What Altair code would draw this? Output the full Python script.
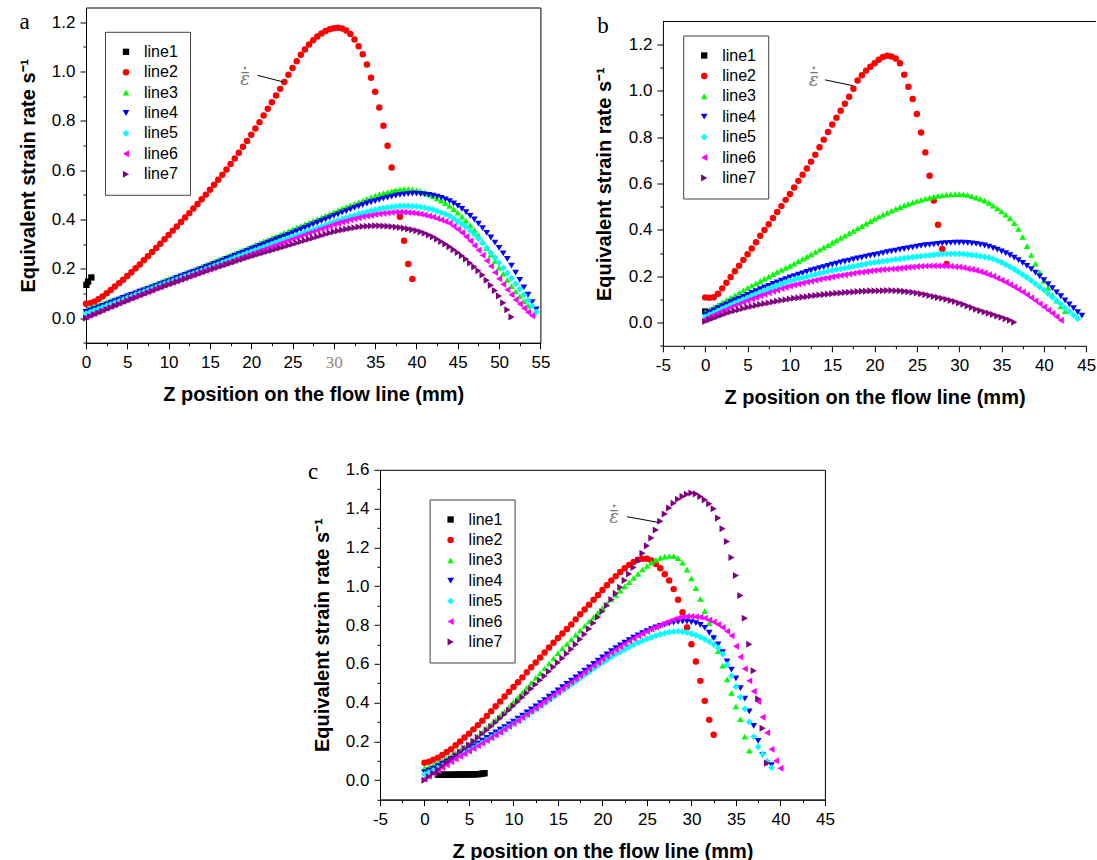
import altair as alt
import pandas as pd

FONT = "Liberation Sans"
SERIES = ["line1", "line2", "line3", "line4", "line5", "line6", "line7"]
COLORS = ["#000000", "#ff0000", "#00ff00", "#0000ff", "#00ffff", "#ff00ff", "#800080"]
SHAPES = ["square", "circle", "triangle-up", "triangle-down", "diamond", "triangle-left", "triangle-right"]
SIZES = [40, 50, 64, 64, 55, 64, 64]

X_TITLE = "Z position on the flow line (mm)"
Y_TITLE = "Equivalent strain rate s\u207b\u00b9"
ANNOT_PARTS = ["\u03b5", "\u2013", "\u00b7"]   # epsilon, bar, dot
ANNOT_DY = [0, -7.5, -11.5]
PANEL_LETTERS = ["a", "b", "c"]

# Z positions along the flow line (mm) shared by the curves of every panel
Z_GRID = [0, 0.5, 1, 1.5, 2, 2.5, 3, 3.5, 4, 4.5, 5, 5.5, 6, 6.5, 7, 7.5, 8, 8.5, 9, 9.5,
          10, 10.5, 11, 11.5, 12, 12.5, 13, 13.5, 14, 14.5, 15, 15.5, 16, 16.5, 17, 17.5, 18, 18.5, 19, 19.5,
          20, 20.5, 21, 21.5, 22, 22.5, 23, 23.5, 24, 24.5, 25, 25.5, 26, 26.5, 27, 27.5, 28, 28.5, 29, 29.5,
          30, 30.5, 31, 31.5, 32, 32.5, 33, 33.5, 34, 34.5, 35, 35.5, 36, 36.5, 37, 37.5, 38, 38.5, 39, 39.5,
          40, 40.5, 41, 41.5, 42, 42.5, 43, 43.5, 44, 44.5, 45, 45.5, 46, 46.5, 47, 47.5, 48, 48.5, 49, 49.5,
          50, 50.5, 51, 51.5, 52, 52.5, 53, 53.5, 54, 54.5, 55]

# ---------------- panel a (strain rate in 1/1000 s^-1) ----------------
A_LINE1_Z = [0.05, 0.25, 0.65]
A_LINE1_V = [135, 148, 165]
A_LINE2 = [58, 61, 67, 77, 88, 101, 114, 128, 142, 156,
           171, 186, 202, 218, 235, 251, 268, 285, 302, 320,
           337, 355, 372, 390, 408, 426, 445, 463, 482, 501,
           521, 541, 561, 582, 603, 625, 648, 671, 695, 719,
           744, 769, 795, 822, 849, 876, 903, 930, 958, 987,
           1015, 1042, 1068, 1090, 1110, 1127, 1142, 1155, 1165, 1172,
           1176, 1178, 1175, 1167, 1153, 1130, 1103, 1070, 1029, 975,
           918, 854, 780, 699, 611, 510, 411, 314, 220, 159]
A_LINE3 = [35, 41, 47, 53, 59, 65, 71, 77, 83, 89,
           95, 101, 107, 114, 120, 126, 133, 139, 145, 152,
           158, 164, 171, 177, 184, 190, 196, 203, 209, 216,
           222, 229, 235, 242, 249, 256, 262, 269, 276, 283,
           290, 297, 304, 311, 318, 325, 332, 339, 346, 353,
           360, 367, 374, 381, 388, 395, 402, 409, 416, 423,
           430, 437, 444, 451, 457, 464, 470, 477, 484, 491,
           497, 502, 507, 511, 515, 519, 522, 523, 523, 521,
           518, 514, 509, 502, 495, 486, 477, 466, 455, 442,
           428, 412, 395, 376, 357, 336, 310, 284, 258, 232,
           205, 180, 155, 130, 108, 88, 68, 50]
A_LINE4 = [25, 31, 37, 44, 50, 56, 63, 69, 75, 82,
           88, 94, 100, 107, 113, 119, 125, 131, 138, 144,
           150, 156, 163, 169, 175, 181, 188, 194, 200, 207,
           213, 220, 226, 233, 240, 246, 253, 260, 266, 273,
           280, 286, 293, 299, 306, 312, 319, 325, 332, 338,
           345, 352, 359, 366, 373, 380, 387, 394, 401, 408,
           415, 421, 428, 434, 441, 447, 453, 459, 465, 470,
           475, 480, 485, 489, 493, 497, 500, 502, 504, 505,
           505, 504, 502, 500, 497, 493, 488, 482, 475, 465,
           455, 443, 430, 415, 400, 383, 365, 346, 327, 306,
           285, 263, 240, 213, 185, 155, 125, 95, 65, 35]
A_LINE5 = [18, 24, 31, 37, 44, 50, 56, 63, 69, 76,
           82, 88, 95, 101, 107, 113, 120, 126, 132, 139,
           145, 151, 157, 163, 169, 175, 181, 187, 193, 199,
           205, 212, 218, 225, 231, 238, 244, 251, 257, 264,
           270, 276, 282, 288, 294, 300, 306, 312, 318, 324,
           330, 336, 342, 348, 354, 360, 366, 372, 378, 384,
           390, 396, 401, 407, 412, 417, 422, 427, 431, 436,
           440, 443, 446, 449, 451, 453, 455, 455, 455, 454,
           453, 451, 448, 444, 440, 434, 428, 422, 415, 404,
           393, 382, 370, 355, 340, 323, 305, 285, 265, 245,
           225, 204, 183, 162, 140, 118, 95, 72, 50, 25]
A_LINE6 = [5, 12, 19, 26, 33, 40, 47, 54, 61, 68,
           75, 82, 88, 95, 101, 108, 114, 121, 127, 134,
           140, 146, 152, 158, 164, 170, 176, 182, 188, 194,
           200, 206, 212, 218, 224, 230, 236, 242, 248, 254,
           260, 266, 272, 278, 284, 290, 296, 302, 308, 314,
           320, 326, 332, 338, 344, 350, 356, 362, 368, 374,
           380, 385, 390, 394, 399, 403, 407, 411, 414, 417,
           420, 423, 425, 427, 429, 430, 430, 430, 428, 427,
           425, 422, 418, 414, 410, 404, 398, 392, 385, 373,
           360, 346, 330, 313, 295, 275, 255, 233, 210, 185,
           160, 137, 115, 95, 75, 57, 40, 24, 10]
A_LINE7 = [0, 7, 14, 21, 28, 35, 42, 49, 56, 63,
           70, 77, 83, 90, 96, 103, 109, 116, 122, 129,
           135, 141, 147, 153, 159, 165, 171, 177, 183, 189,
           195, 201, 206, 212, 217, 223, 228, 234, 239, 245,
           250, 255, 260, 265, 270, 275, 280, 285, 290, 295,
           300, 305, 310, 315, 320, 325, 330, 335, 340, 345,
           350, 354, 358, 361, 364, 367, 370, 372, 373, 374,
           375, 375, 374, 373, 372, 370, 368, 365, 362, 359,
           355, 350, 344, 337, 330, 321, 311, 301, 290, 278,
           266, 253, 240, 224, 208, 192, 175, 154, 133, 112,
           90, 62, 34, 5]

# ---------------- panel b ----------------
B_LINE1_Z = [0.0, 0.3]
B_LINE1_V = [48, 40]
B_LINE2 = [109, 107, 110, 125, 148, 172, 197, 222, 246, 270,
           295, 320, 347, 375, 400, 425, 452, 478, 503, 530,
           555, 583, 612, 638, 665, 695, 725, 757, 790, 823,
           855, 885, 915, 945, 975, 1010, 1045, 1068, 1088, 1105,
           1120, 1135, 1147, 1152, 1149, 1140, 1120, 1070, 1018, 965,
           901, 821, 735, 634, 527, 423, 318, 253]
B_LINE3 = [45, 55, 66, 76, 87, 97, 108, 118, 129, 140,
           150, 160, 170, 180, 190, 199, 209, 219, 228, 236,
           245, 255, 265, 275, 285, 295, 305, 315, 325, 335,
           345, 355, 366, 376, 386, 396, 407, 417, 427, 438,
           448, 457, 466, 475, 483, 491, 499, 506, 513, 519,
           525, 530, 535, 540, 544, 547, 550, 552, 554, 555,
           555, 554, 551, 546, 540, 534, 527, 517, 505, 493,
           480, 466, 450, 430, 405, 370, 330, 292, 255, 218,
           180, 150, 120, 95, 70, 50]
B_LINE4 = [35, 44, 53, 62, 71, 79, 88, 96, 104, 112,
           120, 128, 136, 144, 152, 159, 167, 174, 181, 188,
           195, 201, 207, 213, 219, 225, 230, 235, 240, 245,
           250, 255, 260, 264, 268, 273, 277, 281, 285, 289,
           292, 296, 300, 304, 308, 311, 315, 318, 322, 325,
           328, 331, 334, 336, 338, 340, 342, 343, 344, 345,
           345, 345, 344, 342, 340, 337, 333, 328, 322, 315,
           308, 300, 291, 281, 270, 258, 245, 231, 216, 200,
           183, 166, 149, 131, 114, 96, 79, 62, 45, 30]
B_LINE5 = [25, 34, 42, 51, 59, 67, 76, 84, 92, 100,
           108, 116, 123, 131, 138, 146, 153, 160, 167, 174,
           180, 185, 190, 194, 199, 203, 208, 212, 217, 221,
           225, 229, 232, 236, 239, 243, 246, 250, 253, 257,
           260, 263, 265, 268, 270, 273, 275, 278, 280, 283,
           285, 287, 289, 291, 293, 295, 296, 297, 297, 297,
           297, 296, 294, 292, 290, 287, 284, 280, 275, 268,
           260, 251, 241, 230, 219, 207, 195, 182, 168, 154,
           140, 125, 110, 95, 80, 64, 48, 33, 18]
B_LINE6 = [15, 24, 32, 41, 49, 57, 65, 73, 80, 88,
           95, 102, 109, 116, 122, 129, 135, 141, 147, 153,
           158, 163, 167, 171, 175, 179, 183, 187, 191, 194,
           198, 201, 204, 207, 210, 213, 216, 218, 221, 223,
           225, 227, 229, 230, 232, 233, 235, 237, 239, 240,
           242, 243, 244, 245, 245, 245, 245, 244, 243, 241,
           240, 237, 233, 229, 225, 220, 214, 207, 200, 192,
           183, 174, 164, 154, 143, 132, 120, 107, 94, 81,
           68, 54, 40, 25, 10]
B_LINE7 = [5, 12, 19, 26, 33, 40, 46, 51, 56, 61,
           66, 70, 74, 78, 82, 85, 89, 92, 96, 99,
           102, 105, 107, 110, 112, 115, 117, 119, 121, 123,
           125, 127, 128, 130, 131, 132, 134, 135, 136, 137,
           137, 138, 138, 139, 139, 138, 137, 135, 133, 131,
           128, 125, 121, 117, 113, 109, 105, 101, 96, 91,
           85, 79, 72, 65, 58, 52, 46, 41, 35, 29,
           23, 17, 10, 2]

# ---------------- panel c ----------------
C_LINE1_Z = [1.5, 1.75, 2, 2.25, 2.5, 2.75, 3, 3.25, 3.5, 3.75, 4,
             4.25, 4.5, 4.75, 5, 5.25, 5.5, 5.75, 6, 6.25, 6.5, 6.75]
C_LINE1_V = [28, 28, 28, 28, 28, 28, 28, 28, 29, 29, 29,
             29, 29, 29, 30, 30, 30, 31, 31, 32, 34, 36]
C_LINE2 = [90, 95, 105, 116, 130, 145, 160, 180, 200, 220,
           240, 262, 284, 307, 331, 356, 381, 406, 431, 456,
           480, 505, 530, 556, 582, 607, 632, 658, 684, 709,
           733, 756, 779, 803, 829, 855, 880, 905, 930, 955,
           980, 1005, 1029, 1052, 1073, 1093, 1110, 1125, 1136, 1142,
           1142, 1133, 1115, 1092, 1062, 1030, 985, 930, 866, 787,
           701, 612, 512, 409, 311, 234]
C_LINE3 = [62, 70, 79, 89, 100, 112, 125, 140, 155, 170,
           186, 206, 226, 247, 268, 289, 310, 332, 354, 378,
           402, 427, 452, 477, 502, 527, 552, 577, 602, 628,
           655, 679, 703, 726, 749, 772, 795, 818, 841, 864,
           887, 910, 932, 955, 977, 999, 1021, 1043, 1064, 1086,
           1105, 1122, 1136, 1146, 1152, 1155, 1155, 1145, 1122, 1085,
           1040, 990, 935, 872, 810, 740, 665, 590, 520, 450,
           380, 315, 225, 152]
C_LINE4 = [40, 50, 60, 72, 85, 97, 110, 123, 136, 149,
           162, 176, 190, 204, 218, 232, 246, 260, 274, 288,
           302, 317, 333, 349, 365, 381, 397, 413, 430, 446,
           463, 480, 497, 513, 530, 547, 565, 582, 600, 616,
           633, 649, 665, 680, 695, 709, 722, 735, 747, 758,
           768, 778, 787, 795, 802, 808, 813, 816, 818, 818,
           815, 810, 800, 785, 760, 732, 700, 660, 612, 570,
           525, 475, 420, 355, 280, 203, 130, 88, 78]
C_LINE5 = [30, 40, 50, 62, 75, 87, 100, 113, 126, 139,
           152, 165, 179, 192, 206, 220, 234, 248, 262, 276,
           290, 305, 320, 335, 350, 366, 382, 398, 414, 430,
           446, 462, 478, 494, 510, 526, 543, 559, 575, 591,
           606, 621, 635, 649, 662, 675, 687, 698, 709, 719,
           728, 737, 745, 752, 758, 763, 766, 767, 765, 761,
           755, 747, 738, 727, 714, 699, 682, 650, 595, 538,
           482, 428, 368, 300, 225, 172, 135, 98, 65]
C_LINE6 = [5, 20, 35, 50, 65, 80, 95, 109, 123, 136,
           150, 163, 177, 191, 205, 219, 233, 247, 262, 277,
           292, 307, 323, 339, 355, 371, 388, 404, 421, 438,
           455, 471, 488, 505, 522, 539, 556, 573, 590, 607,
           624, 640, 657, 672, 688, 702, 717, 730, 744, 756,
           768, 779, 790, 800, 810, 819, 828, 836, 842, 844,
           844, 843, 840, 835, 826, 815, 802, 787, 768, 745,
           690, 635, 575, 512, 458, 406, 325, 245, 160, 100,
           62]
C_LINE7 = [0, 18, 36, 55, 74, 92, 110, 128, 146, 165,
           183, 201, 220, 239, 258, 277, 297, 318, 339, 361,
           383, 405, 427, 449, 471, 493, 515, 537, 560, 583,
           606, 629, 652, 675, 700, 726, 752, 780, 810, 840,
           870, 900, 931, 963, 995, 1030, 1063, 1097, 1132, 1170,
           1208, 1248, 1290, 1335, 1372, 1403, 1428, 1448, 1463, 1474,
           1480, 1476, 1462, 1445, 1425, 1399, 1351, 1296, 1230, 1148,
           1055, 952, 835, 701, 564, 420, 268, 88]

# axis tick positions (major + minor)
A_X_TICKS = [0, 2.5, 5, 7.5, 10, 12.5, 15, 17.5, 20, 22.5, 25, 27.5, 30, 32.5,
             35, 37.5, 40, 42.5, 45, 47.5, 50, 52.5, 55]
BC_X_TICKS = [-5, -2.5, 0, 2.5, 5, 7.5, 10, 12.5, 15, 17.5, 20, 22.5, 25, 27.5,
              30, 32.5, 35, 37.5, 40, 42.5, 45]
AB_Y_TICKS = [-0.1, 0.0, 0.1, 0.2, 0.3, 0.4, 0.5, 0.6, 0.7, 0.8, 0.9, 1.0, 1.1, 1.2]
C_Y_TICKS = [-0.1, 0.0, 0.1, 0.2, 0.3, 0.4, 0.5, 0.6, 0.7, 0.8, 0.9, 1.0, 1.1, 1.2,
             1.3, 1.4, 1.5, 1.6]

# annotation (strain-rate symbol with leader line), data coordinates
A_ANN_TEXT = [19.24, 0.964]
A_ANN_LINE_Z = [20.76, 23.88]
A_ANN_LINE_V = [0.985, 0.958]
B_ANN_TEXT = [12.84, 1.045]
B_ANN_LINE_Z = [14.16, 17.43]
B_ANN_LINE_V = [1.048, 1.023]
C_ANN_TEXT = [21.31, 1.351]
C_ANN_LINE_Z = [22.78, 26.27]
C_ANN_LINE_V = [1.358, 1.329]

X_LABEL_EXPR = "datum.value % 5 === 0 ? '' + datum.value : ''"
Y_LABEL_EXPR = "abs(datum.value * 5 - round(datum.value * 5)) < 0.01 ? format(datum.value, '.1f') : ''"
X_TICK_SIZE = {"condition": {"test": "datum.value % 5 !== 0", "value": 3}, "value": 6}
Y_TICK_SIZE = {"condition": {"test": "abs(datum.value * 5 - round(datum.value * 5)) > 0.01", "value": 3}, "value": 6}

INDEP = dict(color="independent", shape="independent", size="independent")


def make_df(l1z, l1v, curves):
    rows = []
    for z, v in zip(l1z, l1v):
        rows.append(("line1", z, v / 1000.0))
    for name, vals in zip(SERIES[1:], curves):
        for z, v in zip(Z_GRID, vals):
            rows.append((name, z, v / 1000.0))
    return pd.DataFrame(rows, columns=["series", "z", "v"])


def build_panel(df, xdom, ydom, w, h, xticks, yticks, legend_xy, ann_text, ann_lz, ann_lv,
                letter, letter_xy, framed, gray30=False, top_rule=False):
    xkw = dict(values=xticks, title=X_TITLE, labelExpr=X_LABEL_EXPR, tickSize=X_TICK_SIZE,
               labelFlush=False, labelOverlap=False, labelFontSize=17, labelPadding=14,
               labelBaseline="middle", titleFontSize=20, titleFontWeight="bold",
               titleX=w / 2, titleY=52, titleBaseline="middle", titleAlign="center", grid=False)
    if gray30:
        xkw["labelColor"] = {"condition": {"test": "datum.value === 30", "value": "#8a8a8a"}, "value": "black"}
        xkw["labelFont"] = {"condition": {"test": "datum.value === 30", "value": "Liberation Serif"}, "value": FONT}
    X = alt.X("z:Q", scale=alt.Scale(domain=xdom, nice=False, zero=False), axis=alt.Axis(**xkw))
    Y = alt.Y("v:Q", scale=alt.Scale(domain=ydom, nice=False, zero=False),
              axis=alt.Axis(values=yticks, title=Y_TITLE, labelExpr=Y_LABEL_EXPR, tickSize=Y_TICK_SIZE,
                            labelFlush=False, labelOverlap=False, labelFontSize=17, labelPadding=5,
                            titleFontSize=20, titleFontWeight="bold", titleX=-58, titleY=h / 2,
                            titleBaseline="middle", titleAlign="center", titleAngle=270, grid=False))
    legend = alt.Legend(title=None, orient="none", legendX=legend_xy[0], legendY=legend_xy[1],
                        strokeColor="#444444", fillColor="white", padding=12, labelFont=FONT,
                        labelFontSize=16, labelColor="black", labelOffset=10, symbolOffset=1,
                        rowPadding=4.4, symbolSize=36, symbolStrokeWidth=0, symbolOpacity=1)
    pts = alt.Chart(df).mark_point(filled=True, opacity=1, strokeWidth=0).encode(
        x=X, y=Y,
        color=alt.Color("series:N", scale=alt.Scale(domain=SERIES, range=COLORS), legend=legend),
        shape=alt.Shape("series:N", scale=alt.Scale(domain=SERIES, range=SHAPES), legend=legend),
        size=alt.Size("series:N", scale=alt.Scale(domain=SERIES, range=SIZES), legend=None),
    )
    line = alt.Chart(pd.DataFrame({"z": ann_lz, "v": ann_lv})).mark_line(
        color="black", strokeWidth=1).encode(x=X, y=Y)
    ann_df = pd.DataFrame({"z": [ann_text[0]], "v": [ann_text[1]]})
    layers = [pts, line]
    for part, dy in zip(ANNOT_PARTS, ANNOT_DY):
        layers.append(alt.Chart(ann_df).mark_text(
            text=part, dy=dy, font="DejaVu Serif", fontStyle="italic", fontSize=18, color="#777777",
            baseline="middle", align="center").encode(x=X, y=Y))
    layers.append(alt.Chart(pd.DataFrame({"t": [letter]})).mark_text(
        font="Liberation Serif", fontSize=23, baseline="middle", align="center", color="black").encode(
        x=alt.value(letter_xy[0]), y=alt.value(letter_xy[1]), text="t:N"))
    if top_rule:
        layers.append(alt.Chart(pd.DataFrame({"k": [0]})).mark_rule(color="black", strokeWidth=1).encode(
            x=alt.value(0), x2=alt.value(433), y=alt.value(0)))
    return alt.layer(*layers).properties(
        width=w, height=h,
        view=alt.ViewBackground(stroke="black" if framed else "transparent", strokeWidth=1))


def spacer(w, h):
    return alt.Chart(pd.DataFrame({"s": [0]})).mark_point(size=0, opacity=0).encode(
        x=alt.value(0), y=alt.value(0)).properties(
        width=w, height=h, view=alt.ViewBackground(stroke="transparent"))


df_a = make_df(A_LINE1_Z, A_LINE1_V, [A_LINE2, A_LINE3, A_LINE4, A_LINE5, A_LINE6, A_LINE7])
df_b = make_df(B_LINE1_Z, B_LINE1_V, [B_LINE2, B_LINE3, B_LINE4, B_LINE5, B_LINE6, B_LINE7])
df_c = make_df(C_LINE1_Z, C_LINE1_V, [C_LINE2, C_LINE3, C_LINE4, C_LINE5, C_LINE6, C_LINE7])

panel_a = build_panel(df_a, [0, 55], [-0.1, 1.26], 454.4, 335.3, A_X_TICKS, AB_Y_TICKS, [19, 24.3],
                      A_ANN_TEXT, A_ANN_LINE_Z, A_ANN_LINE_V, PANEL_LETTERS[0], [-61.4, 14.7],
                      framed=True, gray30=True)
panel_b = build_panel(df_b, [-5, 45], [-0.1, 1.3], 423.3, 324.3, BC_X_TICKS, AB_Y_TICKS, [20.3, 14],
                      B_ANN_TEXT, B_ANN_LINE_Z, B_ANN_LINE_V, PANEL_LETTERS[1], [-60, 4.3],
                      framed=False, top_rule=True)
panel_c = build_panel(df_c, [-5, 45], [-0.1, 1.6], 444.9, 329.8, BC_X_TICKS, C_Y_TICKS, [49.6, 29.7],
                      C_ANN_TEXT, C_ANN_LINE_Z, C_ANN_LINE_V, PANEL_LETTERS[2], [-66.8, 1.7],
                      framed=True)

b_column = alt.vconcat(spacer(10, 13.7), panel_b, spacing=0, bounds="flush").resolve_scale(**INDEP)
top_row = alt.hconcat(panel_a, b_column, spacing=121.9, bounds="flush").resolve_scale(**INDEP)
bottom_row = alt.hconcat(spacer(293.9, 10), panel_c, spacing=0, bounds="flush").resolve_scale(**INDEP)

chart = alt.vconcat(top_row, bottom_row, spacing=51.3).resolve_scale(**INDEP).properties(
    padding={"left": 17, "top": 6.5, "right": 0, "bottom": 0}
).configure(font=FONT).configure_axis(
    domainColor="black", tickColor="black", labelColor="black", titleColor="black",
    labelFont=FONT, titleFont=FONT, domainWidth=1, tickWidth=1
)

chart.save("out.html", embed_options={"renderer": "svg", "actions": False})
